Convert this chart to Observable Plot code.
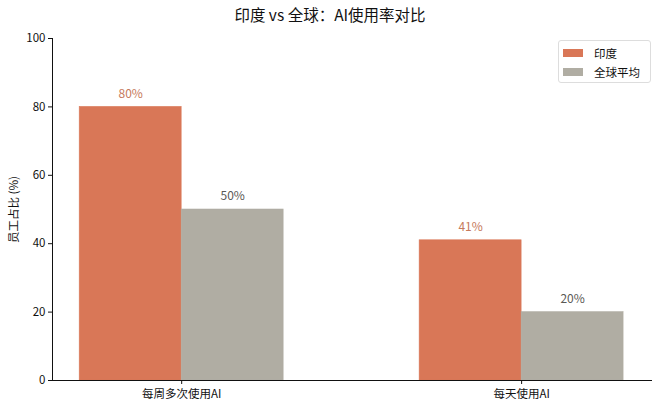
<!DOCTYPE html>
<html><head><meta charset="utf-8">
<script src="https://cdn.jsdelivr.net/npm/d3@7"></script>
<script src="https://cdn.jsdelivr.net/npm/@observablehq/plot@0.6"></script>
<style>
body{margin:0;background:#fff;font-family:"Noto Sans CJK SC","Noto Sans",sans-serif;}
#wrap{position:relative;width:660px;height:409px;}
#title{position:absolute;left:0;width:660px;top:3px;text-align:center;font-size:15.5px;color:#111;}
#legend{position:absolute;left:558px;top:40px;width:93px;height:43px;border:1px solid #ddd;border-radius:3px;background:#fff;font-size:11.5px;color:#111;box-sizing:border-box;}
.item{position:absolute;left:4px;display:flex;align-items:center;}
.sw{width:20px;height:8px;margin-right:11px;}
</style></head>
<body><div id="wrap"><div id="title">印度 vs 全球：AI使用率对比</div><div id="legend"></div></div>
<script>
const categories = ["每周多次使用AI", "每天使用AI"];
const seriesNames = ["印度", "全球平均"];
const indiaValues = [80, 41];
const globalValues = [50, 20];
const colors = ["#D97757", "#B0ADA3"];
const labelColors = ["#C67A5C", "#5A5955"];
const yTicks = [0, 20, 40, 60, 80, 100];

const barW = 0.3;
const rows = [];
categories.forEach((c, i) => {
  rows.push({i, series: seriesNames[0], value: indiaValues[i], x1: i - barW, x2: i});
  rows.push({i, series: seriesNames[1], value: globalValues[i], x1: i, x2: i + barW});
});
const xmin = -0.38, xmax = 1.385;

const chart = Plot.plot({
  width: 660, height: 409,
  marginTop: 38, marginBottom: 29, marginLeft: 52, marginRight: 8,
  style: {fontFamily: '"Noto Sans CJK SC","Noto Sans",sans-serif', fontSize: "11.5px", color: "#111"},
  x: {domain: [xmin, xmax]},
  y: {domain: [0, 100]},
  color: {domain: seriesNames, range: colors},
  marks: [
    Plot.rectY(rows, {x1: "x1", x2: "x2", y: "value", fill: "series", stroke: "series", strokeOpacity: 0.9, strokeWidth: 0.6, inset: 0}),
    Plot.text(rows, {x: d => (d.x1 + d.x2) / 2, y: "value", text: d => d.value + "%", dy: -13, fill: d => labelColors[seriesNames.indexOf(d.series)], fontSize: 12}),
    Plot.ruleY([0], {x1: xmin, x2: xmax, stroke: "#111", strokeWidth: 1}),
    Plot.ruleX([xmin], {y1: 0, y2: 100, stroke: "#111", strokeWidth: 1}),
    Plot.axisY({ticks: yTicks, tickSize: 4, tickPadding: 3, label: "员工占比 (%)", labelAnchor: "center", labelArrow: "none", labelOffset: 43, fontSize: 11.5}),
    Plot.axisX({ticks: [0, 1], tickFormat: i => categories[i], tickSize: 4, tickPadding: 5, label: null, fontSize: 11.5})
  ]
});
document.getElementById("wrap").appendChild(chart);
chart.style.position = "absolute"; chart.style.left = "0"; chart.style.top = "0";
document.getElementById("title").style.zIndex = 2;
const lg = document.getElementById("legend");
lg.style.zIndex = 2;
seriesNames.forEach((s, k) => {
  const it = document.createElement("div");
  it.className = "item"; it.style.top = (4 + k * 19) + "px";
  it.innerHTML = `<span class="sw" style="background:${colors[k]}"></span><span>${s}</span>`;
  lg.appendChild(it);
});
</script></body></html>
